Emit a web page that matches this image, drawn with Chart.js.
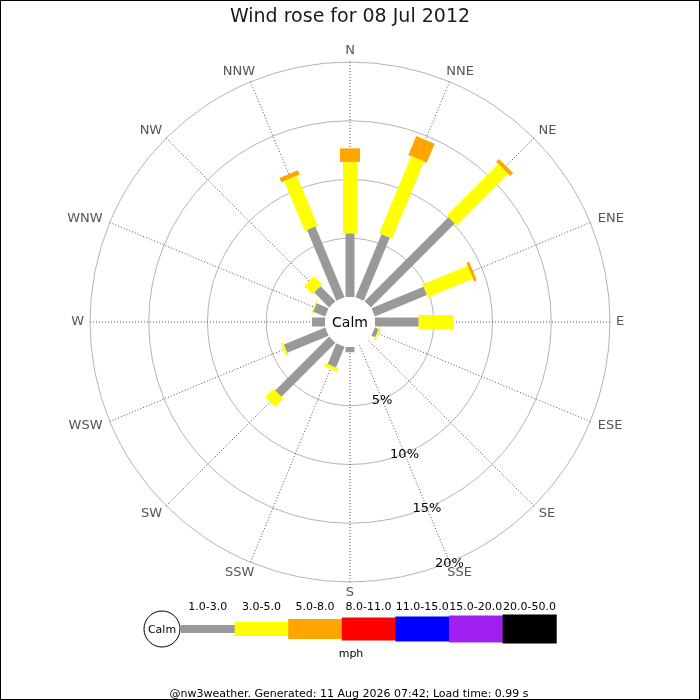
<!DOCTYPE html>
<html>
<head>
<meta charset="utf-8">
<title>Wind rose</title>
<script src="https://cdn.jsdelivr.net/npm/chart.js@4.4.1/dist/chart.umd.min.js"></script>
<style>
    html, body { margin: 0; padding: 0; background: #fff; }
    #wrap { width: 700px; height: 700px; }
</style>
</head>
<body>
<div id="wrap"><canvas id="roseChart" width="700" height="700"></canvas></div>
<script>
// Directions, clockwise from north
const directions = ['N', 'NNE', 'NE', 'ENE', 'E', 'ESE', 'SE', 'SSE',
                    'S', 'SSW', 'SW', 'WSW', 'W', 'WNW', 'NW', 'NNW'];

// Speed classes (mph) and their colours
const speedClasses = ['1.0-3.0', '3.0-5.0', '5.0-8.0', '8.0-11.0', '11.0-15.0', '15.0-20.0', '20.0-50.0'];
const speedColors = ['#999999', '#ffff00', '#ffa500', '#ff0000', '#0000ff', '#a020f0', '#000000'];

// Frequency (%) per direction for each speed class
const freq1to3 = [5.4, 5.8, 10.1, 4.8, 3.7, 0.35, 0, 0, 0.45, 1.9, 6.5, 3.8, 1.1, 1.1, 1.8, 6.5];
const freq3to5 = [6.1, 7.1, 6.2, 4.15, 3.0, 0.15, 0, 0, 0, 0.3, 1.0, 0.2, 0, 0.1, 1.0, 4.6];
const freq5to8 = [1.15, 1.75, 0.35, 0.25, 0, 0, 0, 0, 0, 0, 0, 0, 0, 0, 0, 0.4];
const seriesList = [freq1to3, freq3to5, freq5to8];

// Radial rings and their labels
const ringValues = [5, 10, 15, 20];
const ringLabels = ['5%', '10%', '15%', '20%'];

const titleText = 'Wind rose for 08 Jul 2012';
const unitText = 'mph';
const footerText = '@nw3weather. Generated: 11 Aug 2026 07:42; Load time: 0.99 s';

// Geometry: pixels per percent and calm hole radius
const PX = 11.75;
const HOLE_PX = 25;
const HOLE = HOLE_PX / PX;
const CX = 350, CY = 322;
const barWidths = [9, 14, 20, 23, 25, 27, 29];
const FONT = '"DejaVu Sans", Verdana, sans-serif';

/**
 * Build one line dataset per bar segment
 */
function buildDatasets() {
    const sets = [];
    directions.forEach((d, i) => {
        const ang = i * Math.PI / 8;
        let cum = 0;
        seriesList.forEach((series, k) => {
            const v = series[i];
            if (v <= 0) return;
            const r0 = HOLE + cum;
            const r1 = HOLE + cum + v;
            cum += v;
            sets.push({
                label: d + ' ' + speedClasses[k],
                data: [
                    { x: r0 * Math.sin(ang), y: r0 * Math.cos(ang) },
                    { x: r1 * Math.sin(ang), y: r1 * Math.cos(ang) }
                ],
                showLine: true,
                borderColor: speedColors[k],
                borderWidth: barWidths[k],
                borderCapStyle: 'butt',
                pointRadius: 0,
                pointHoverRadius: 0,
                fill: false
            });
        });
    });
    return sets;
}

// Grid, labels, calm hole, legend and footer
const rosePlugin = {
    id: 'rose',
    beforeDraw(chart) {
        const ctx = chart.ctx;
        ctx.save();
        ctx.fillStyle = '#fff';
        ctx.fillRect(0, 0, chart.width, chart.height);
        ctx.restore();
    },
    beforeDatasetsDraw(chart) {
        const ctx = chart.ctx;
        const xs = chart.scales.x, ys = chart.scales.y;
        const cx = xs.getPixelForValue(0), cy = ys.getPixelForValue(0);
        const rad = v => xs.getPixelForValue(HOLE + v) - cx;
        const outer = rad(ringValues[ringValues.length - 1]);

        ctx.save();
        // rings
        ctx.strokeStyle = '#b4b4b4';
        ctx.lineWidth = 1;
        ringValues.forEach(v => {
            ctx.beginPath();
            ctx.arc(cx, cy, rad(v), 0, Math.PI * 2);
            ctx.stroke();
        });
        // spokes
        ctx.strokeStyle = '#555';
        ctx.setLineDash([1, 2]);
        directions.forEach((d, i) => {
            const a = i * Math.PI / 8;
            ctx.beginPath();
            ctx.moveTo(cx + HOLE_PX * Math.sin(a), cy - HOLE_PX * Math.cos(a));
            ctx.lineTo(cx + outer * Math.sin(a), cy - outer * Math.cos(a));
            ctx.stroke();
        });
        ctx.setLineDash([]);

        // direction labels
        ctx.fillStyle = '#555';
        ctx.font = '13px ' + FONT;
        ctx.textAlign = 'center';
        ctx.textBaseline = 'middle';
        directions.forEach((d, i) => {
            const a = i * Math.PI / 8;
            const s = Math.sin(a), c = Math.cos(a);
            const w = ctx.measureText(d).width;
            const push = Math.abs(s) > 0.01 && Math.abs(s) < 0.99 ? 3 * Math.sign(s) : 0;
            const x = cx + (outer + 6 + w / 2) * s + push;
            const y = cy - (outer + 11) * c;
            ctx.fillText(d, x, y);
        });

        // title
        ctx.fillStyle = '#1a1a1a';
        ctx.font = '19px ' + FONT;
        ctx.fillText(titleText, 350, 17);
        ctx.restore();
    },
    afterDatasetsDraw(chart) {
        const ctx = chart.ctx;
        const xs = chart.scales.x, ys = chart.scales.y;
        const cx = xs.getPixelForValue(0), cy = ys.getPixelForValue(0);
        const rad = v => xs.getPixelForValue(HOLE + v) - cx;

        ctx.save();
        // calm hole
        ctx.fillStyle = '#fff';
        ctx.beginPath();
        ctx.arc(cx, cy, HOLE_PX, 0, Math.PI * 2);
        ctx.fill();
        ctx.fillStyle = '#000';
        ctx.font = '14px ' + FONT;
        ctx.textAlign = 'center';
        ctx.textBaseline = 'middle';
        ctx.fillText('Calm', cx, cy + 1);

        // ring labels along the SSE spoke
        const a = 7 * Math.PI / 8;
        ctx.font = '13px ' + FONT;
        ringValues.forEach((v, i) => {
            const r = rad(v);
            ctx.fillText(ringLabels[i], cx + r * Math.sin(a), cy - r * Math.cos(a) + 1);
        });

        // legend
        const ly = 629;
        const segW = 53.6;
        const lx0 = 181;
        ctx.strokeStyle = '#000';
        ctx.lineWidth = 1;
        ctx.beginPath();
        ctx.arc(162, ly, 18, 0, Math.PI * 2);
        ctx.stroke();
        ctx.font = '11px ' + FONT;
        ctx.fillText('Calm', 162, ly + 1);
        speedClasses.forEach((lab, k) => {
            const x = lx0 + k * segW;
            const h = k === 0 ? 8 : barWidths[k];
            ctx.fillStyle = speedColors[k];
            ctx.fillRect(x, ly - h / 2, segW + 0.5, h);
            ctx.fillStyle = '#000';
            ctx.fillText(lab, x + segW / 2, 607);
        });
        ctx.fillText(unitText, 351, 654);

        // footer
        ctx.font = '11px ' + FONT;
        ctx.fillText(footerText, 349, 694);

        // frame
        ctx.strokeStyle = '#000';
        ctx.strokeRect(0.5, 0.5, chart.width - 1, chart.height - 1);
        ctx.restore();
    }
};

new Chart(document.getElementById('roseChart'), {
    type: 'scatter',
    data: { datasets: buildDatasets() },
    options: {
        responsive: false,
        animation: false,
        events: [],
        layout: { padding: 0 },
        plugins: {
            legend: { display: false },
            tooltip: { enabled: false },
            title: { display: false }
        },
        scales: {
            x: { type: 'linear', display: false, min: -CX / PX, max: (700 - CX) / PX },
            y: { type: 'linear', display: false, min: -(700 - CY) / PX, max: CY / PX }
        }
    },
    plugins: [rosePlugin]
});
</script>
</body>
</html>
